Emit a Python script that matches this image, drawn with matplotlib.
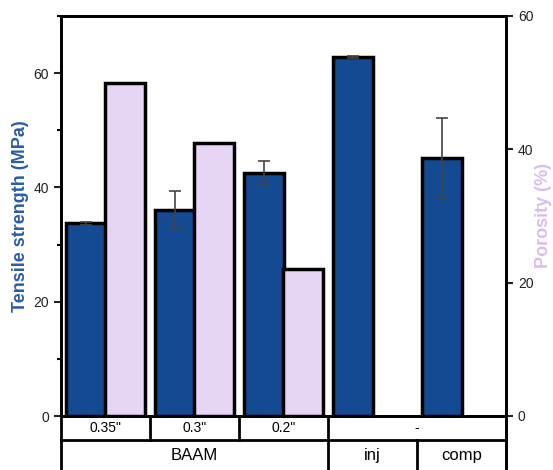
import numpy as np
import matplotlib.pyplot as plt
from matplotlib.ticker import MultipleLocator

plt.rcParams['font.family'] = ['Liberation Sans', 'DejaVu Sans']

# dados
processos = ['0.35"', '0.3"', '0.2"', 'inj', 'comp']
tensao = [33.7, 36.0, 42.6, 62.8, 45.1]
tensao_err = [0.3, 3.3, 2.1, 0.2, 7.0]
porosidade = [50.0, 41.0, 22.0, np.nan, np.nan]
linha1 = [('0.35"', 0, 0), ('0.3"', 1, 1), ('0.2"', 2, 2), ('-', 3, 4)]
linha2 = [('BAAM', 0, 2), ('inj', 3, 3), ('comp', 4, 4)]

azul = '#134a92'
rosa = '#e7d5f5'

fig = plt.figure(figsize=(5.53, 4.70), dpi=100)
ax = fig.add_axes([61/553, 1-416/470, 445/553, 400/470])
ax2 = ax.twinx()

x = np.arange(len(processos))
w = 0.44
ax.bar(x - w/2, tensao, w, yerr=tensao_err, color=azul, edgecolor='black',
       linewidth=2.5, error_kw=dict(ecolor='#444444', elinewidth=1.2, capsize=4, capthick=1.2), zorder=3)
ax2.bar(x + w/2, porosidade, w, color=rosa, edgecolor='black', linewidth=2.5, zorder=3)

ax.set_xlim(-0.5, len(processos) - 0.5)
ax.set_ylim(0, 70)
ax2.set_ylim(0, 60)
ax.set_xticks([])
ax.yaxis.set_major_locator(MultipleLocator(20))
ax.yaxis.set_minor_locator(MultipleLocator(10))
ax2.yaxis.set_major_locator(MultipleLocator(20))
ax.tick_params(axis='y', which='major', length=5, width=1.5, labelsize=10, colors='#222222')
ax.tick_params(axis='y', which='minor', length=3, width=1.5)
ax2.tick_params(axis='y', which='major', length=5, width=1.5, labelsize=10, colors='#222222')
for a in (ax, ax2):
    for s in a.spines.values():
        s.set_linewidth(2)

ax.set_ylabel('Tensile strength (MPa)', color='#2a5ca8', fontsize=13, fontweight='bold', labelpad=3)
ax2.set_ylabel('Porosity (%)', color='#d9bcf0', fontsize=13, fontweight='bold', labelpad=1)

# tabela de categorias abaixo do eixo
tr = ax.get_xaxis_transform()
y0, y1, y2 = 0, -0.06, -0.14
kw = dict(color='black', lw=2, transform=tr, clip_on=False)
ax.plot([-0.5, -0.5], [y0, y2], **kw)
ax.plot([4.5, 4.5], [y0, y2], **kw)
ax.plot([-0.5, 4.5], [y1, y1], **kw)
for txt, a, b in linha1:
    ax.plot([b + 0.5, b + 0.5], [y0, y1], **kw)
    ax.text((a + b) / 2, (y0 + y1) / 2, txt, transform=tr, ha='center', va='center', fontsize=10)
for txt, a, b in linha2:
    ax.plot([b + 0.5, b + 0.5], [y1, y2], **kw)
    ax.text((a + b) / 2, -0.098, txt, transform=tr, ha='center', va='center', fontsize=12)

fig.savefig('out.png', dpi=100)
